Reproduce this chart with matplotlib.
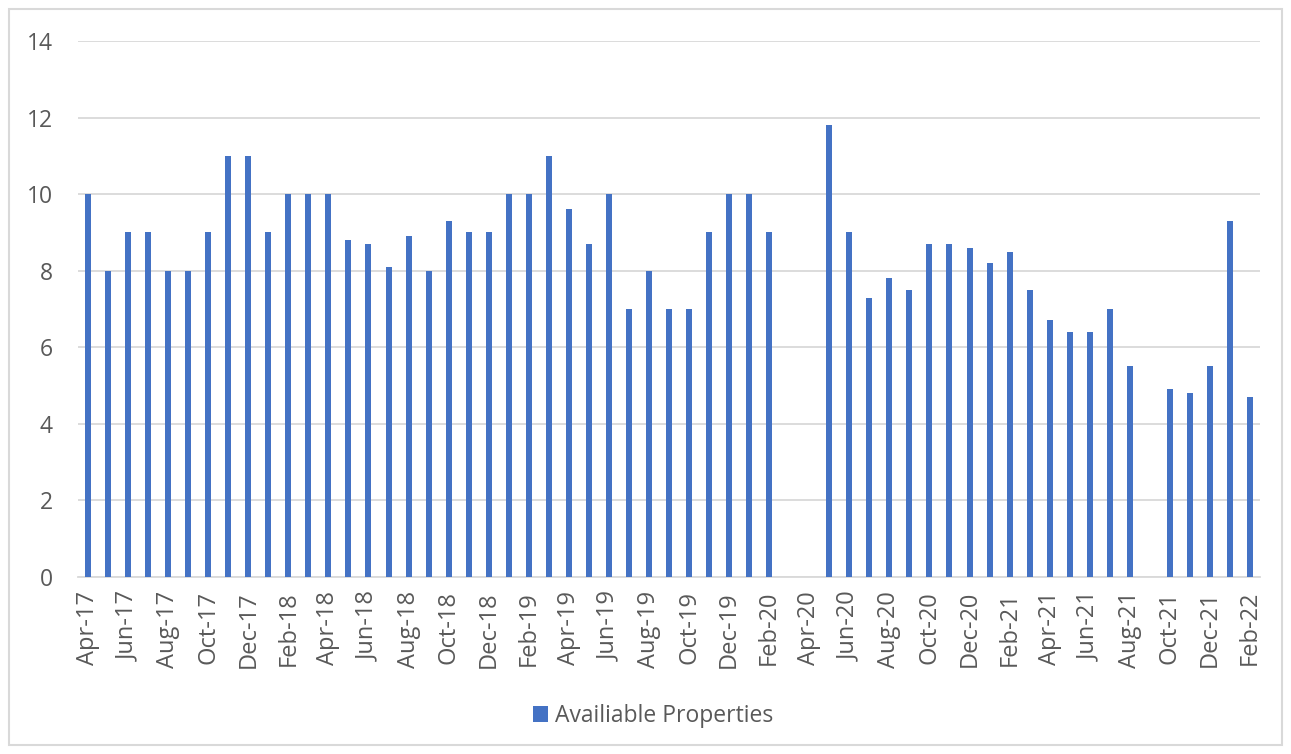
import matplotlib
matplotlib.use("Agg")
import matplotlib.pyplot as plt
from matplotlib.patches import Rectangle
import numpy as np

months = ["Apr-17","May-17","Jun-17","Jul-17","Aug-17","Sep-17","Oct-17","Nov-17","Dec-17",
          "Jan-18","Feb-18","Mar-18","Apr-18","May-18","Jun-18","Jul-18","Aug-18","Sep-18","Oct-18","Nov-18","Dec-18",
          "Jan-19","Feb-19","Mar-19","Apr-19","May-19","Jun-19","Jul-19","Aug-19","Sep-19","Oct-19","Nov-19","Dec-19",
          "Jan-20","Feb-20","Mar-20","Apr-20","May-20","Jun-20","Jul-20","Aug-20","Sep-20","Oct-20","Nov-20","Dec-20",
          "Jan-21","Feb-21","Mar-21","Apr-21","May-21","Jun-21","Jul-21","Aug-21","Sep-21","Oct-21","Nov-21","Dec-21",
          "Jan-22","Feb-22"]
values = [10, 8, 9, 9, 8, 8, 9, 11, 11,
          9, 10, 10, 10, 8.8, 8.7, 8.1, 8.9, 8, 9.3, 9, 9,
          10, 10, 11, 9.6, 8.7, 10, 7, 8, 7, 7, 9, 10,
          10, 9, np.nan, np.nan, 11.8, 9, 7.3, 7.8, 7.5, 8.7, 8.7, 8.6,
          8.2, 8.5, 7.5, 6.7, 6.4, 6.4, 7, 5.5, np.nan, 4.9, 4.8, 5.5,
          9.3, 4.7]
series_name = "Availiable Properties"

plt.rcParams['font.family'] = ['Open Sans', 'DejaVu Sans']
text_color = "#595959"
bar_color = "#4472C4"
grid_color = "#D9D9D9"

W, H = 1291, 754
fig = plt.figure(figsize=(W/100, H/100), dpi=100)
fig.patch.set_facecolor("white")
fig.patches.append(Rectangle((9/W, 9/H), (W-18)/W, (H-18)/H, transform=fig.transFigure,
                             fill=False, edgecolor="#D9D9D9", linewidth=1.5))

ax = fig.add_axes([78/W, (H-577)/H, (1260-78)/W, (577-41)/H])
x = np.arange(len(months))
vals = np.array(values, dtype=float)
mask = ~np.isnan(vals)
ax.bar(x[mask], vals[mask], width=0.3, color=bar_color, label=series_name, zorder=3)

ax.set_xlim(-0.5, len(months) - 0.5)
ax.set_ylim(0, 14)
ax.set_yticks(np.arange(0, 15, 2))
ax.set_xticks(x[::2])
ax.set_xticklabels(months[::2], rotation=90)
ax.tick_params(axis='both', length=0, colors=text_color)
ax.tick_params(axis='y', pad=18, labelsize=16.5)
ax.tick_params(axis='x', pad=10, labelsize=17)
ax.grid(axis='y', color=grid_color, linewidth=1.3, zorder=0)
for s in ["top", "right", "left"]:
    ax.spines[s].set_visible(False)
ax.spines["bottom"].set_color(grid_color)
ax.spines["bottom"].set_linewidth(1.3)

leg = fig.legend(loc="center", bbox_to_anchor=(653/W, (H-716)/H), frameon=False,
                 fontsize=16.5, handlelength=0.65, handleheight=0.65, handletextpad=0.3)
for t in leg.get_texts():
    t.set_color(text_color)

fig.savefig("out.png", dpi=100, facecolor="white")
